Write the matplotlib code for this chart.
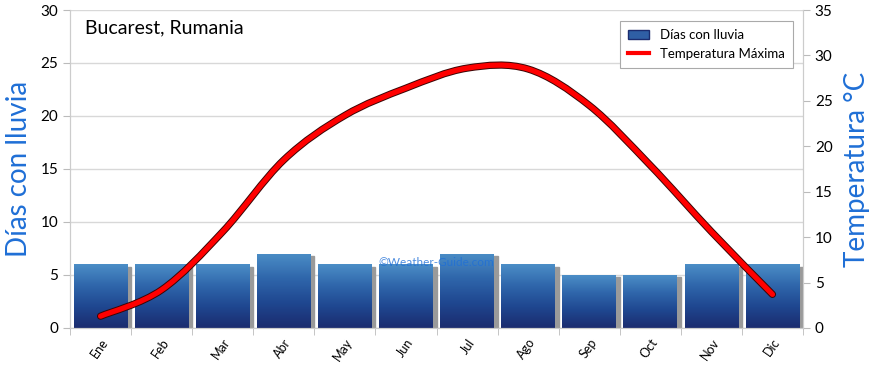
import numpy as np
import matplotlib
matplotlib.use('Agg')
import matplotlib.pyplot as plt
import matplotlib.patheffects as pe
from matplotlib.path import Path
from matplotlib.patches import PathPatch, Rectangle

months = ['Ene', 'Feb', 'Mar', 'Abr', 'May', 'Jun', 'Jul', 'Ago', 'Sep', 'Oct', 'Nov', 'Dic']
rain_days = [6, 6, 6, 7, 6, 6, 7, 6, 5, 5, 6, 6]
temp_max = [1.3, 4.2, 10.6, 18.5, 23.4, 26.4, 28.6, 28.5, 24.5, 17.9, 10.6, 3.7]

plt.rcParams['font.family'] = ['Lato', 'DejaVu Sans']
BLUE_TXT = '#1f6fd6'

fig = plt.figure(figsize=(8.7, 3.65), dpi=100)
ax = fig.add_axes([0.0805, 0.1014, 0.8425, 0.8712])
ax2 = ax.twinx()

x = np.arange(len(months))
w = 0.88

# gradient image for bars (dark navy bottom -> light blue top)
grad = np.linspace(0, 1, 64).reshape(-1, 1)
cmap = matplotlib.colors.LinearSegmentedColormap.from_list(
    'bar', ['#1b2c6f', '#1f4790', '#2f66ab', '#4b8dc6'])

for xi, v in zip(x, rain_days):
    # shadow
    ax.add_patch(Rectangle((xi - w / 2 + 0.06, 0), w, v - 0.2, color='#9a9a9a', zorder=1))
    bar = Rectangle((xi - w / 2, 0), w, v, facecolor='none', edgecolor='none', zorder=2)
    ax.add_patch(bar)
    im = ax.imshow(grad, cmap=cmap, origin='lower', aspect='auto',
                   extent=(xi - w / 2, xi + w / 2, 0, v), zorder=2)
    im.set_clip_path(bar)

ax.set_xlim(-0.5, len(months) - 0.5)
ax.set_ylim(0, 30)
ax.set_yticks(range(0, 31, 5))
ax.set_xticks(x)
ax.set_xticklabels(months, rotation=55, ha='right', rotation_mode='anchor', fontsize=9)
ax.set_xticks(np.arange(-0.5, len(months), 1), minor=True)
ax.tick_params(axis='x', which='major', length=0, pad=6)
ax.tick_params(axis='x', which='minor', length=5, color='#bbbbbb')
ax.tick_params(axis='y', length=5, color='#bbbbbb', labelsize=11)
ax.grid(axis='y', color='#d8d8d8', lw=1)
ax.set_axisbelow(True)
for s in ax.spines.values():
    s.set_color('#cccccc')
ax.spines['top'].set_visible(False)
ax.set_ylabel('Días con lluvia', color=BLUE_TXT, fontsize=20, labelpad=6)

# smooth temperature curve (Catmull-Rom as cubic bezier)
p = np.column_stack([x, temp_max]).astype(float)
verts = [p[0]]
codes = [Path.MOVETO]
for i in range(len(p) - 1):
    p0 = p[i - 1] if i > 0 else p[i]
    p3 = p[i + 2] if i + 2 < len(p) else p[i + 1]
    c1 = p[i] + (p[i + 1] - p0) / 6
    c2 = p[i + 1] - (p3 - p[i]) / 6
    verts += [c1, c2, p[i + 1]]
    codes += [Path.CURVE4] * 3
ax2.add_patch(PathPatch(Path(verts, codes), fill=False, edgecolor='#ff0000', lw=3.8,
                        capstyle='round', zorder=5,
                        path_effects=[pe.Stroke(linewidth=5.2, foreground='#3a0505'), pe.Normal()]))
ax2.set_ylim(0, 35)
ax2.set_yticks(range(0, 36, 5))
ax2.tick_params(axis='y', length=5, color='#bbbbbb', labelsize=11)
for s in ax2.spines.values():
    s.set_color('#cccccc')
ax2.spines['top'].set_visible(False)
ax2.set_ylabel('Temperatura °C', color=BLUE_TXT, fontsize=20, labelpad=8)

ax.text(0.02, 0.945, 'Bucarest, Rumania', transform=ax.transAxes, fontsize=14,
        va='center', ha='left')
ax.text(0.5, 0.205, '©Weather-Guide.com', transform=ax.transAxes, fontsize=8.5,
        color=BLUE_TXT, alpha=0.8, ha='center', va='center', zorder=6)

# legend
h1 = Rectangle((0, 0), 1, 1, facecolor='#2f5fa5', edgecolor='#1b2c6f')
h2 = matplotlib.lines.Line2D([], [], color='red', lw=3)
leg = ax2.legend([h1, h2], ['Días con lluvia', 'Temperatura Máxima'], loc='upper right',
                 bbox_to_anchor=(0.995, 0.985), fontsize=9.5, fancybox=False,
                 edgecolor='#aaaaaa', framealpha=1, handlelength=1.6, borderpad=0.6)
leg.get_frame().set_linewidth(0.8)

fig.savefig('out.png', dpi=100)
